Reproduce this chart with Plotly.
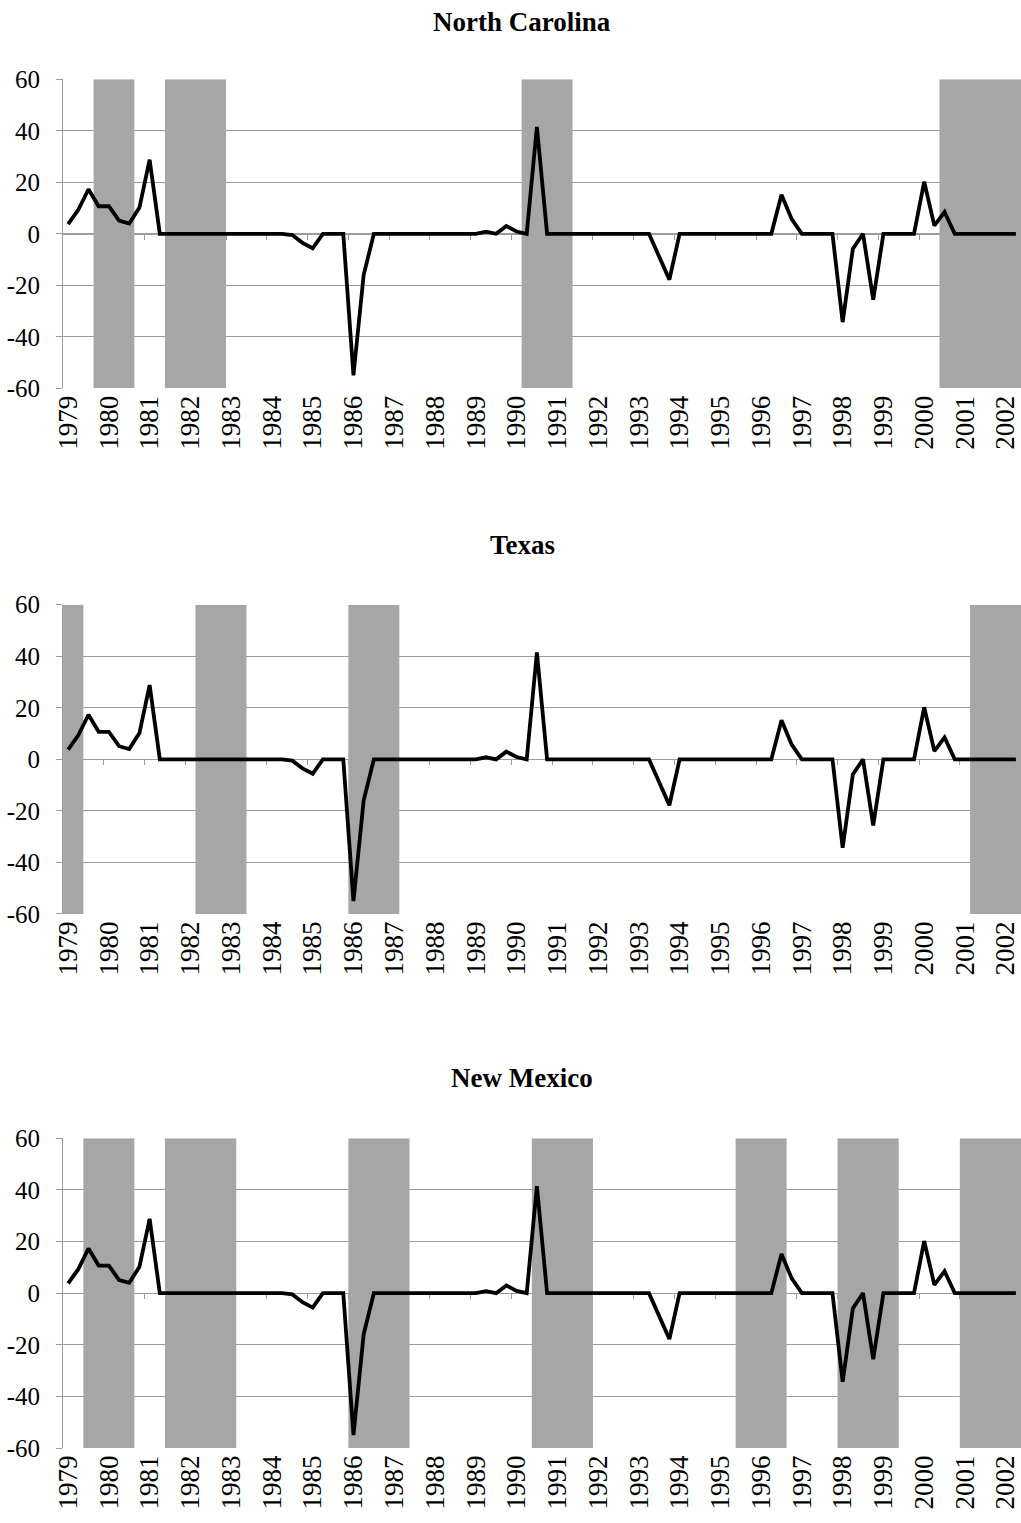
import plotly.graph_objects as go

# ---------------- data ----------------
YEARS = list(range(1979, 2003))
QUARTERS = [f"{y}Q{q}" for y in YEARS for q in (1, 2, 3, 4)][:94]   # 1979Q1 .. 2002Q2

VALUES = [3.8, 9.3, 17.3, 10.7, 10.7, 5.1, 4.0, 10.2, 28.8,
          0, 0, 0, 0, 0, 0, 0, 0, 0, 0, 0, 0, 0,
          -0.5, -3.5, -5.6,
          0, 0, 0,
          -55.0, -16.0,
          0, 0, 0, 0, 0, 0, 0, 0, 0, 0, 0,
          0.8, 0, 3.0, 0.9, 0,
          41.5,
          0, 0, 0, 0, 0, 0, 0, 0, 0, 0, 0,
          -8.9, -17.8,
          0, 0, 0, 0, 0, 0, 0, 0, 0, 0,
          15.2, 5.7,
          0, 0, 0, 0,
          -34.3, -5.9, 0, -25.6,
          0, 0, 0, 0,
          20.2, 3.2, 8.5,
          0, 0, 0, 0, 0, 0, 0]

TITLES = ["North Carolina", "Texas", "New Mexico"]

NC_SHADED = [("1979Q4", "1980Q3"), ("1981Q3", "1982Q4"), ("1990Q2", "1991Q2"), ("2000Q3", "2002Q2")]
TX_SHADED = [("1979Q1", "1979Q2"), ("1982Q2", "1983Q2"), ("1986Q1", "1987Q1"), ("2001Q2", "2002Q2")]
NM_SHADED = [("1979Q3", "1980Q3"), ("1981Q3", "1983Q1"), ("1986Q1", "1987Q2"), ("1990Q3", "1991Q4"),
             ("1995Q3", "1996Q3"), ("1998Q1", "1999Q2"), ("2001Q1", "2002Q2")]
SHADED = [NC_SHADED, TX_SHADED, NM_SHADED]

Y_MIN, Y_MAX = -60, 60
Y_TICKS = [-60, -40, -20, 0, 20, 40, 60]
Y_TICK_TEXT = ["-60", "-40", "-20", "0", "20", "40", "60"]

# ---------------- figure ----------------
W, H = 1021, 1523
GRID = "#9c9c9c"
SHADE = "#a6a6a6"
FONT = "Liberation Serif"

x_idx = list(range(len(QUARTERS)))
label_vals = [i for i, q in enumerate(QUARTERS) if q.endswith("Q1")]
label_text = [q[:4] for q in QUARTERS if q.endswith("Q1")]
boundary_vals = [v - 0.5 for v in label_vals[1:]]

domains = [(0.74504, 0.94793), (0.39987, 0.60295), (0.04924, 0.25259)]
title_y = [22, 545, 1078]

fig = go.Figure()
layout = dict(width=W, height=H, autosize=False,
              margin=dict(l=63, r=0, t=0, b=0, pad=0, autoexpand=False),
              paper_bgcolor="white", plot_bgcolor="white",
              showlegend=False, annotations=[],
              font=dict(family=FONT, color="black"))

for k in range(3):
    n = k + 1
    sx = "" if n == 1 else str(n)
    ox = str(n + 3)
    # one bar per shaded period (start..end quarter, inclusive)
    bx, bw = [], []
    for a, b in SHADED[k]:
        ia, ib = QUARTERS.index(a), QUARTERS.index(b)
        bx.append((ia + ib) / 2)
        bw.append(ib - ia + 1)
    fig.add_trace(go.Bar(x=bx, y=[Y_MAX - Y_MIN] * len(bx), base=Y_MIN, width=bw,
                         marker=dict(color=SHADE, line=dict(width=0)),
                         xaxis="x" + sx, yaxis="y" + sx, hoverinfo="skip"))
    fig.add_trace(go.Scatter(x=x_idx, y=VALUES, mode="lines",
                             line=dict(color="black", width=3.8),
                             text=QUARTERS, xaxis="x" + ox, yaxis="y" + sx))
    d0, d1 = domains[k]
    layout["xaxis" + sx] = dict(domain=[0, 1], range=[-0.5, len(QUARTERS) - 0.5], anchor="y" + sx,
                                tickmode="array", tickvals=label_vals, ticktext=label_text,
                                tickangle=-90, ticks="", showline=False, showgrid=False,
                                zeroline=False, automargin=False,
                                tickfont=dict(family=FONT, size=27, color="black"),
                                ticklabelstandoff=1)
    layout["xaxis" + ox] = dict(domain=[0, 1], range=[-0.5, len(QUARTERS) - 0.5],
                                overlaying="x" + sx, anchor="free", position=(d0 + d1) / 2,
                                side="bottom", tickmode="array", tickvals=boundary_vals,
                                ticks="outside", ticklen=5, tickcolor=GRID, tickwidth=1,
                                showticklabels=False, showline=True, linecolor=GRID, linewidth=1,
                                showgrid=False, zeroline=False, automargin=False,
                                layer="below traces")
    layout["yaxis" + sx] = dict(domain=[d0, d1], range=[Y_MIN, Y_MAX], anchor="x" + sx,
                                tickmode="array", tickvals=Y_TICKS, ticktext=Y_TICK_TEXT,
                                showgrid=True, gridcolor=GRID, gridwidth=1,
                                showline=True, linecolor=GRID, linewidth=1,
                                ticks="outside", ticklen=6, tickcolor=GRID,
                                zeroline=False, automargin=False,
                                tickfont=dict(family=FONT, size=25, color="black"),
                                ticklabelstandoff=11)
    layout["annotations"].append(dict(text="<b>" + TITLES[k] + "</b>", xref="paper", yref="paper",
                                      x=(522 - 63) / (W - 63), y=1 - title_y[k] / H,
                                      xanchor="center", yanchor="middle", showarrow=False,
                                      font=dict(family=FONT, size=27, color="black")))

fig.update_layout(**layout)
fig.write_html("out.html")
